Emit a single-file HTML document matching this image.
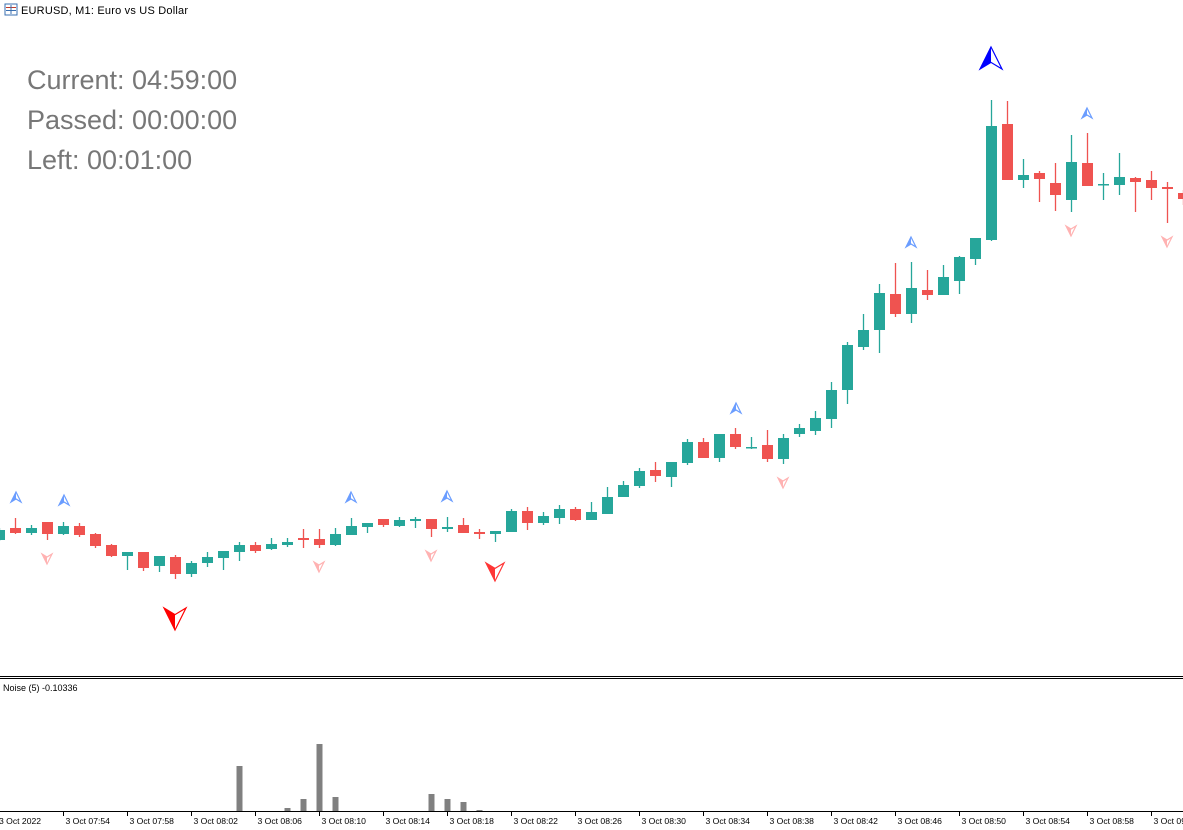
<!DOCTYPE html>
<html><head><meta charset="utf-8"><style>
html,body{margin:0;padding:0;background:#fff;width:1183px;height:830px;overflow:hidden;}
svg{display:block;font-family:"Liberation Sans",sans-serif;}
</style></head><body>
<svg id="s" width="1183" height="830" xmlns="http://www.w3.org/2000/svg">
<rect x="0" y="0" width="1183" height="830" fill="#fff"/>
<g>
<rect x="5" y="4" width="12" height="11" fill="#fff" stroke="#3a6fb0" stroke-width="1"/>
<line x1="6" y1="7.5" x2="16" y2="7.5" stroke="#c0392b"/><line x1="6" y1="10.5" x2="16" y2="10.5" stroke="#3a6fb0"/><line x1="11" y1="5" x2="11" y2="14" stroke="#3a6fb0"/>
<text x="21" y="14" font-size="11" fill="#000" textLength="167">EURUSD, M1:  Euro vs US Dollar</text>
</g>
<text x="27" y="89" font-size="27" fill="#777">Current: 04:59:00</text>
<text x="27" y="129" font-size="27" fill="#777">Passed: 00:00:00</text>
<text x="27" y="169" font-size="27" fill="#777">Left: 00:01:00</text>
<g id="c"></g>
<line x1="0" y1="676.5" x2="1183" y2="676.5" stroke="#000"/>
<line x1="0" y1="678.5" x2="1183" y2="678.5" stroke="#000"/>
<text x="3" y="691" font-size="9" fill="#000">Noise (5) -0.10336</text>
<g id="n" fill="#808080"></g>
<line x1="0" y1="811.5" x2="1183" y2="811.5" stroke="#000"/>
<g id="t" font-size="8.6" fill="#000"></g>
</svg>
<script>
var NS="http://www.w3.org/2000/svg";
function el(p,t,a){var e=document.createElementNS(NS,t);for(var k in a)e.setAttribute(k,a[k]);p.appendChild(e);return e;}
var D=[[530,540,528,541,1],[528,533,518,534,0],[528,533,525,535,1],[522,534,522,540,0],[526,534,522,535,1],[526,535,523,537,0],[534,546,533,548,0],[545,556,544,557,0],[552,556,552,570,1],[552,568,552,571,0],[556,566,556,572,1],[557,574,555,579,0],[563,574,561,577,1],[557,563,552,567,1],[551,558,551,570,1],[545,552,542,561,1],[545,551,542,553,0],[544,549,538,550,1],[542,545,538,547,1],[538,540,529,548,0],[539,545,529,548,0],[534,545,528,546,1],[526,535,518,535,1],[523,527,523,533,1],[519,525,519,527,0],[520,526,517,527,1],[519,521,517,528,1],[519,529,519,537,0],[527,529,517,532,1],[525,533,518,533,0],[532,534,529,539,0],[531,534,531,542,1],[511,532,509,532,1],[511,523,507,530,0],[516,523,512,525,1],[509,518,505,524,1],[509,520,507,521,0],[512,520,502,520,1],[497,514,487,514,1],[485,497,481,497,1],[471,486,468,488,1],[470,476,462,482,0],[462,477,462,487,1],[442,463,439,465,1],[442,458,438,458,0],[434,458,434,462,1],[434,447,428,449,0],[447,448,437,449,1],[445,459,430,462,0],[438,459,434,464,1],[428,434,424,437,1],[418,431,411,435,1],[390,419,382,428,1],[345,390,342,404,1],[330,347,314,350,1],[293,330,284,353,1],[294,314,263,317,0],[288,314,262,323,1],[290,295,270,300,0],[277,295,265,295,1],[257,281,256,294,1],[238,259,238,265,1],[126,240,100,241,1],[124,180,101,180,0],[175,180,159,188,1],[173,179,171,202,0],[183,195,163,211,0],[162,200,135,212,1],[163,186,133,186,0],[184,185,173,200,1],[177,185,153,195,1],[178,182,177,212,0],[180,188,171,200,0],[187,189,182,223,0],[193,199,190,205,0]];
var g=document.getElementById("c");
D.forEach(function(d,n){var x=16*n-0.5;var col=d[4]?"#26a69a":"#ef5350";
el(g,"line",{x1:x,x2:x,y1:d[2],y2:d[3],stroke:col,"stroke-width":1.3});
el(g,"rect",{x:x-5.5,y:d[0],width:11,height:Math.max(d[1]-d[0],1.5),fill:col});});
function arrow(x,y,s,up,col,op){var k=up?1:-1;var a=el(g,"g",{transform:"translate("+x+","+y+") scale("+s+","+(s*k)+")",opacity:op});
el(a,"polygon",{points:"0,-10 0,4 -10,10",fill:col});
el(a,"polygon",{points:"0,-10 10,10 0,4 -10,10",fill:"none",stroke:col,"stroke-width":1.2/s});}
arrow(991,58,1.1,true,"#0000ff",1);
arrow(175,619,1.1,false,"#ff0000",1);
arrow(495,572,0.9,false,"#ff2020",0.9);
[[16,497],[64,500],[351,497],[447,496],[736,408],[911,242],[1087,113]].forEach(function(p){arrow(p[0],p[1],0.5,true,"#3a7dff",0.75);});
[[47,559],[319,567],[431,556],[783,483],[1071,231],[1167,242]].forEach(function(p){arrow(p[0],p[1],0.5,false,"#ff8080",0.6);});
var N=document.getElementById("n");
[[15,766],[18,808],[19,799],[20,744],[21,797],[27,794],[28,799],[29,802],[30,810]].forEach(function(b){var x=16*b[0]-0.5;el(N,"rect",{x:x-3,y:b[1],width:6,height:811-b[1]});});
var T=document.getElementById("t");
var labs=["3 Oct 2022","3 Oct 07:54","3 Oct 07:58","3 Oct 08:02","3 Oct 08:06","3 Oct 08:10","3 Oct 08:14","3 Oct 08:18","3 Oct 08:22","3 Oct 08:26","3 Oct 08:30","3 Oct 08:34","3 Oct 08:38","3 Oct 08:42","3 Oct 08:46","3 Oct 08:50","3 Oct 08:54","3 Oct 08:58","3 Oct 09:02"];
labs.forEach(function(l,i){var x=64*i-0.5;el(T,"line",{x1:x,x2:x,y1:811,y2:816,stroke:"#000"});var t=el(T,"text",{x:(i==0?-1:x+2),y:824});t.textContent=l;});
</script>
</body></html>
